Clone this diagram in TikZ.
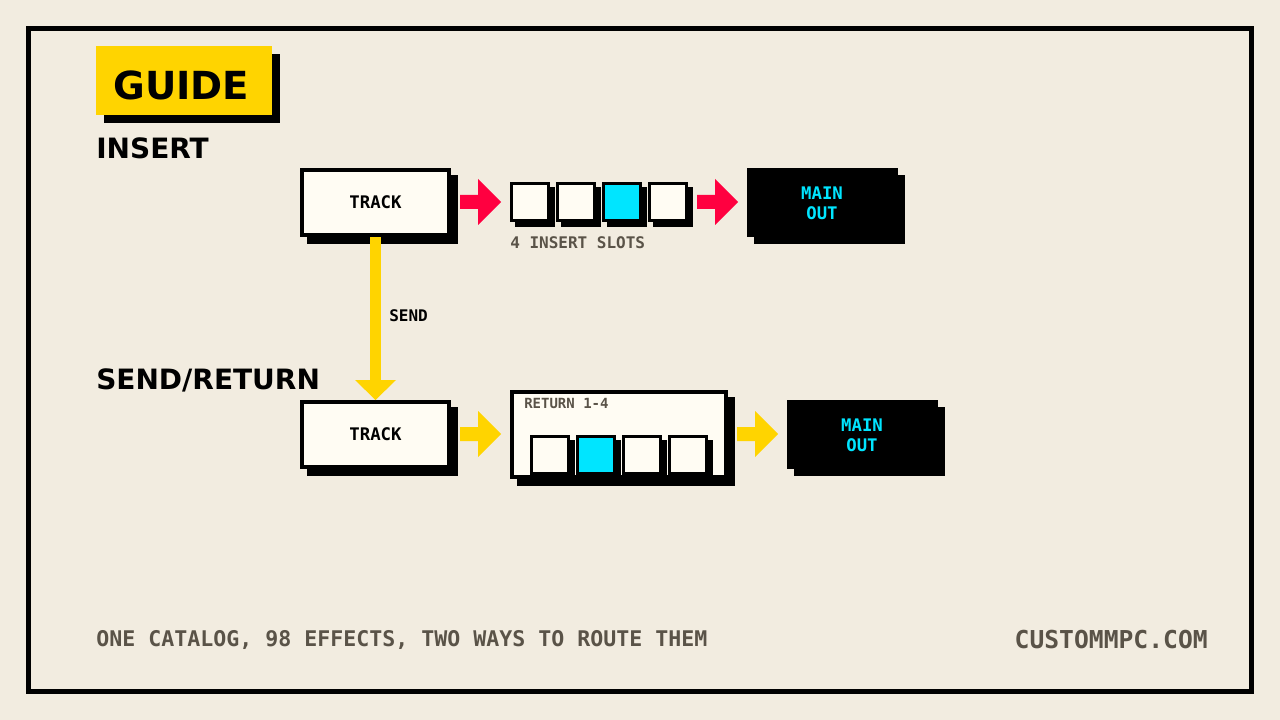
\documentclass[tikz,border=0pt]{standalone}
\usepackage{fontspec}
\setmainfont{DejaVu Sans Mono}
\newfontfamily\headf{DejaVu Sans}
\definecolor{bg}{HTML}{F2ECE0}
\definecolor{paper}{HTML}{FFFCF3}
\definecolor{yel}{HTML}{FFD400}
\definecolor{redc}{HTML}{FF0040}
\definecolor{cyanc}{HTML}{00E5FF}
\definecolor{greyt}{HTML}{5A5348}
\begin{document}
\begin{tikzpicture}[x=0.75pt,y=-0.75pt,
  head/.style={font=\headf\bfseries\fontsize{#1}{#1}\selectfont,anchor=west,inner sep=0},
  mono/.style={font=\bfseries\fontsize{#1}{#1}\selectfont,inner sep=0},
  box/.style={draw=black,line width=3pt,fill=paper,inner sep=0,outer sep=0},
  slot/.style={draw=black,line width=2.2pt,fill=paper,minimum width=27.75pt,minimum height=27.75pt,inner sep=0,outer sep=0},
]
\fill[bg] (0,0) rectangle (1280,720);
\draw[line width=3.4pt] (28.5,28.5) rectangle (1251.5,691.5);
\fill (104,54) rectangle (280,123);
\fill[yel] (96,46) rectangle (272,115);
\node[head=29] (guide) at (113,85) {GUIDE};
\node[head=21] (ins) at (96,148) {INSERT};
\node[head=21] (sr) at (96,380) {SEND/RETURN};
\foreach \x/\y/\w/\h in {300/168/151/69, 300/400/151/69, 510/390/218/89}{
  \fill (\x+7,\y+7) rectangle (\x+\w+7,\y+\h+7);}
\fill (754,175) rectangle (905,244);
\fill (794,407) rectangle (945,476);
\node[box,minimum width=110.25pt,minimum height=48.75pt,anchor=north west] (t1) at (302,170) {};
\node[mono=13] at (t1) {TRACK};
\node[box,minimum width=110.25pt,minimum height=48.75pt,anchor=north west] (t2) at (302,402) {};
\node[mono=13] at (t2) {TRACK};
\node[box,minimum width=160.5pt,minimum height=63.75pt,anchor=north west] (rb) at (512,392) {};
\node[mono=10.5,text=greyt,anchor=west] (rl) at (524,403) {RETURN 1-4};
\fill (747,168) rectangle (898,237);
\node[text=cyanc,align=center,inner sep=0,font=\bfseries\fontsize{13}{15}\selectfont] (m1) at (822,203) {MAIN\\OUT};
\fill (787,400) rectangle (938,469);
\node[text=cyanc,align=center,inner sep=0,font=\bfseries\fontsize{13}{15}\selectfont] (m2) at (862,435) {MAIN\\OUT};
\foreach \x/\c [count=\i] in {510/paper,556/paper,602/cyanc,648/paper}{
  \fill (\x+5,187) rectangle (\x+45,227);
  \node[slot,fill=\c,anchor=north west] (s\i) at (\x+1.5,183.5) {};}
\foreach \x/\c [count=\i] in {530/paper,576/cyanc,622/paper,668/paper}{
  \fill (\x+5,440) rectangle (\x+45,480);
  \node[slot,fill=\c,anchor=north west] (r\i) at (\x+1.5,436.5) {};}
\node[mono=12,text=greyt,anchor=west] (lab) at (510,243) {4 INSERT SLOTS};
\foreach \x/\y/\c in {460/202/redc,697/202/redc,460/434/yel,737/434/yel}{
  \fill[\c] (\x,\y-7) -- (\x+18,\y-7) -- (\x+18,\y-23) -- (\x+41,\y) -- (\x+18,\y+23) -- (\x+18,\y+7) -- (\x,\y+7) -- cycle;}
\fill[yel] (370,237) rectangle (381,381);
\fill[yel] (355,380) -- (396,380) -- (375.5,400) -- cycle;
\node[mono=12,anchor=west] (send) at (389,316) {SEND};
\node[mono=16.2,text=greyt,anchor=west] (foot) at (96,640) {ONE CATALOG, 98 EFFECTS, TWO WAYS TO ROUTE THEM};
\node[mono=18.5,text=greyt,anchor=east] (url) at (1208,640) {CUSTOMMPC.COM};
\end{tikzpicture}
\end{document}
